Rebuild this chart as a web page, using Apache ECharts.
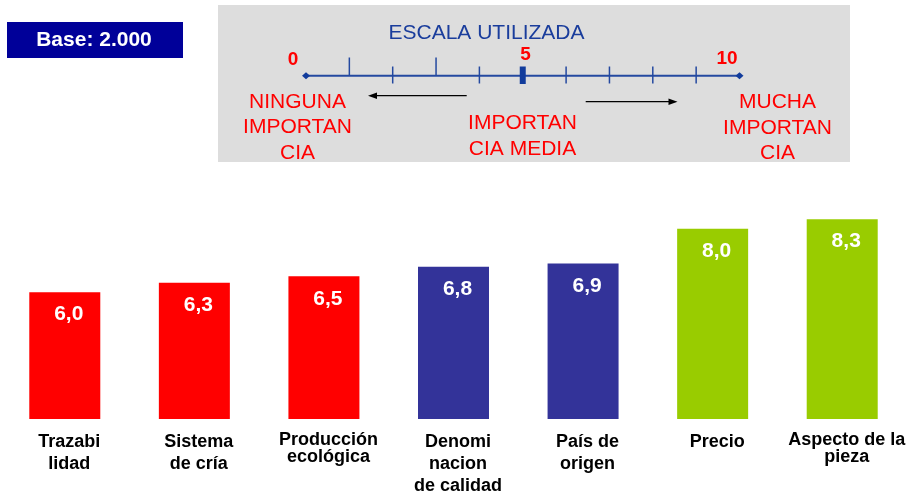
<!DOCTYPE html>
<html>
<head>
<meta charset="utf-8">
<script src="https://cdn.jsdelivr.net/npm/echarts@6/dist/echarts.min.js"></script>
<style>
  html, body { margin: 0; padding: 0; background: #fff; }
  #chart { width: 912px; height: 495px; }
</style>
</head>
<body>
<div id="chart"></div>
<script>
// datos del gráfico
const categories = ['Trazabi\nlidad', 'Sistema\nde cría', 'Producción\necológica', 'Denomi\nnacion\nde calidad', 'País de\norigen', 'Precio', 'Aspecto de la\npieza']
const values = [6.0, 6.3, 6.5, 6.8, 6.9, 8.0, 8.3]
const barColors = ['#ff0000', '#ff0000', '#ff0000', '#333399', '#333399', '#99cc00', '#99cc00']

// escala utilizada (0 - 10)
const scaleMin = 0
const scaleMax = 10
const scaleLabels = ['0', '5', '10']
const baseText = 'Base: 2.000'

const FONT = "'Liberation Sans', Arial, sans-serif"
const chart = echarts.init(document.getElementById('chart'))

// posición en la escala del panel superior
const sx0 = 306, sx1 = 739.5, sy = 75.7
const sx = v => sx0 + (v - scaleMin) / (scaleMax - scaleMin) * (sx1 - sx0)

function txt(text, x, y, color, size, weight, lineHeight) {
    return {
        type: 'text',
        style: {
            text: text, x: x, y: y, fill: color,
            fontFamily: FONT, fontSize: size, fontWeight: weight,
            lineHeight: lineHeight || size,
            align: 'center', verticalAlign: 'middle'
        }
    }
}

const graphics = []
// caja base
graphics.push({ type: 'rect', shape: { x: 7, y: 22, width: 176, height: 36 }, style: { fill: '#000099' } })
graphics.push(txt(baseText, 94, 40, '#fff', 21, 'bold'))
// panel gris
graphics.push({ type: 'rect', shape: { x: 218, y: 5, width: 632, height: 157 }, style: { fill: '#dddddd' } })
graphics.push(txt('ESCALA UTILIZADA', 486.5, 33, '#1a3d9c', 21, 'normal'))
graphics.push({ type: 'line', shape: { x1: sx(scaleMin), y1: sy, x2: sx(scaleMax), y2: sy }, style: { stroke: '#2449a0', lineWidth: 2 } })
for (let i = scaleMin + 1; i < scaleMax; i++) {
    if (i === 5) {
        graphics.push({ type: 'rect', shape: { x: sx(i) - 3, y: 66.5, width: 6, height: 17.5 }, style: { fill: '#123c9c' } })
    } else if (i === 1 || i === 3) {
        graphics.push({ type: 'line', shape: { x1: sx(i), y1: 57.5, x2: sx(i), y2: 75 }, style: { stroke: '#2449a0', lineWidth: 1.5 } })
    } else {
        graphics.push({ type: 'line', shape: { x1: sx(i), y1: 66.5, x2: sx(i), y2: 83.5 }, style: { stroke: '#2449a0', lineWidth: 1.5 } })
    }
}
;[scaleMin, scaleMax].forEach(v => {
    const x = sx(v)
    graphics.push({ type: 'polygon', shape: { points: [[x - 4, sy], [x, sy - 3.5], [x + 4, sy], [x, sy + 3.5]] }, style: { fill: '#123c9c' } })
})
const numPos = [[293, 59.5], [525.5, 55], [727, 59]]
scaleLabels.forEach((t, i) => {
    graphics.push(txt(t, numPos[i][0], numPos[i][1], '#ff0000', 19, 'bold'))
})
// flechas
graphics.push({ type: 'line', shape: { x1: 466.7, y1: 95.7, x2: 375, y2: 95.7 }, style: { stroke: '#000', lineWidth: 1.3 } })
graphics.push({ type: 'polygon', shape: { points: [[368, 95.7], [377, 92.5], [377, 98.9]] }, style: { fill: '#000' } })
graphics.push({ type: 'line', shape: { x1: 585.7, y1: 101.7, x2: 670, y2: 101.7 }, style: { stroke: '#000', lineWidth: 1.3 } })
graphics.push({ type: 'polygon', shape: { points: [[677.5, 101.7], [668.5, 98.5], [668.5, 104.9]] }, style: { fill: '#000' } })
// textos rojos
graphics.push(txt('NINGUNA\nIMPORTAN\nCIA', 297.5, 127.5, '#ff0000', 21, 'normal', 25.5))
graphics.push(txt('IMPORTAN\nCIA MEDIA', 522.5, 136, '#ff0000', 21, 'normal', 25.5))
graphics.push(txt('MUCHA\nIMPORTAN\nCIA', 777.5, 128, '#ff0000', 21, 'normal', 25.5))

chart.setOption({
    animation: false,
    graphic: graphics,
    grid: { left: 0, right: 5, top: 197, bottom: 76 },
    xAxis: {
        type: 'category',
        data: categories,
        axisLine: { show: false },
        axisTick: { show: false },
        axisLabel: {
            interval: 0,
            margin: 12,
            padding: [0, 0, 0, 9],
            formatter: val => {
                const tight = val.startsWith('Producción') || val.startsWith('Aspecto')
                return val.split('\n').map(l => '{' + (tight ? 't' : 'n') + '|' + l + '}').join('\n')
            },
            rich: {
                n: { fontFamily: FONT, fontSize: 18, fontWeight: 'bold', color: '#000', lineHeight: 22 },
                t: { fontFamily: FONT, fontSize: 18, fontWeight: 'bold', color: '#000', lineHeight: 17.5 }
            }
        }
    },
    yAxis: { type: 'value', min: 2, max: 9, show: false },
    series: [{
        type: 'bar',
        barWidth: 71,
        data: values.map((v, i) => ({ value: v, itemStyle: { color: barColors[i] } })),
        label: {
            show: true,
            position: 'insideTop',
            distance: 12,
            offset: [4, 0],
            formatter: p => p.value.toFixed(1).replace('.', ','),
            fontFamily: FONT,
            fontSize: 21,
            fontWeight: 'bold',
            color: '#fff'
        }
    }]
})
</script>
</body>
</html>
